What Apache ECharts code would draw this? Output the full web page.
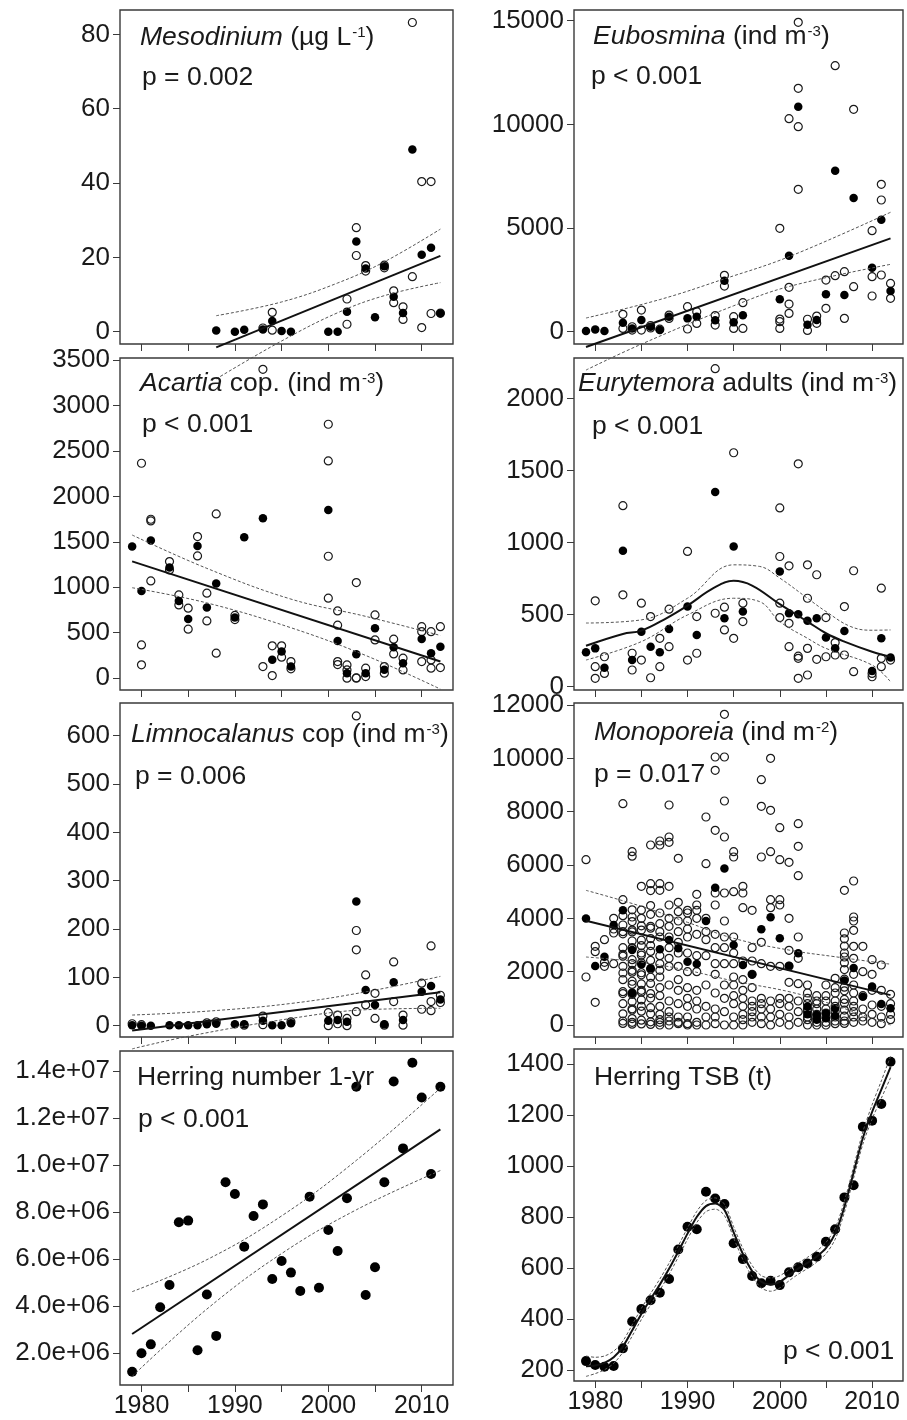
<!DOCTYPE html>
<html>
<head>
<meta charset="utf-8">
<script src="https://cdn.jsdelivr.net/npm/echarts@6/dist/echarts.min.js"></script>
<style>
  html, body { margin: 0; padding: 0; background: #fff; }
  #chart { width: 907px; height: 1420px; }
</style>
</head>
<body>
<div id="chart"></div>
<script>
// ---------- axis ticks ----------
const yearTicks = [1980, 1985, 1990, 1995, 2000, 2005, 2010];
const yearLabels = [1980, 1990, 2000, 2010];
const mesoTicks = [0, 20, 40, 60, 80];
const euboTicks = [0, 5000, 10000, 15000];
const acarTicks = [0, 500, 1000, 1500, 2000, 2500, 3000, 3500];
const euryTicks = [0, 500, 1000, 1500, 2000];
const limnoTicks = [0, 100, 200, 300, 400, 500, 600];
const monoTicks = [0, 2000, 4000, 6000, 8000, 10000, 12000];
const herringNTicks = [2e6, 4e6, 6e6, 8e6, 1e7, 1.2e7, 1.4e7];
const herringNTickLabels = ['2.0e+06', '4.0e+06', '6.0e+06', '8.0e+06', '1.0e+07', '1.2e+07', '1.4e+07'];
const tsbTicks = [200, 400, 600, 800, 1000, 1200, 1400];

// ---------- Mesodinium (ug L-1) ----------
const mesoMean = [[1988,0.3],[1990,0],[1991,0.5],[1993,0.6],[1994,2.9],[1995,0.2],[1996,0],[2000,0],[2001,0],[2002,5.4],[2003,24.3],[2004,17.0],[2005,3.9],[2006,17.6],[2007,9.4],[2008,5.0],[2009,49.0],[2010,20.7],[2011,22.6],[2012,4.9]];
const mesoSamples = [[1993,1.0],[1994,5.2],[1994,0.4],[2002,8.8],[2002,2.0],[2003,28.0],[2003,20.5],[2004,17.8],[2004,16.3],[2006,17.9],[2006,17.2],[2007,11.0],[2007,7.8],[2008,6.7],[2008,3.3],[2009,83.2],[2009,14.8],[2010,40.4],[2010,1.1],[2011,40.4],[2011,4.9],[2012,5.0]];
const mesoFit = [[1988,-4.2],[2012,20.4]];
const mesoUpper = [[1988,4.3],[1995,8.0],[2001,13.1],[2006,18.8],[2012,27.6]];
const mesoLower = [[1988,-12.7],[1995,-2.5],[2001,5.1],[2006,9.7],[2012,13.2]];

// ---------- Eubosmina (ind m-3) ----------
const euboMean = [[1979,30],[1980,110],[1981,30],[1983,430],[1984,160],[1985,560],[1986,240],[1987,80],[1988,720],[1990,643],[1991,724],[1993,550],[1994,2460],[1995,450],[1996,790],[2000,1560],[2001,3658],[2002,10854],[2003,330],[2004,563],[2005,1809],[2006,7766],[2007,1768],[2008,6448],[2010,3082],[2011,5397],[2012,1962]];
const euboSamples = [[1983,836],[1983,160],[1984,240],[1984,80],[1985,1045],[1985,80],[1986,300],[1986,180],[1987,120],[1988,800],[1988,640],[1990,1206],[1990,130],[1991,965],[1991,400],[1993,780],[1993,320],[1994,2717],[1994,2203],[1995,723],[1995,160],[1996,1399],[1996,160],[2000,4985],[2000,611],[2000,482],[2000,160],[2001,10275],[2001,2139],[2001,1335],[2001,884],[2002,14922],[2002,11738],[2002,9889],[2002,6866],[2003,600],[2003,60],[2004,756],[2004,402],[2005,2492],[2005,1126],[2006,12832],[2006,2701],[2007,2894],[2007,643],[2008,10725],[2008,2171],[2010,4872],[2010,2653],[2010,1721],[2011,7107],[2011,6351],[2011,2734],[2012,2330],[2012,1608]];
const euboFit = [[1979,-740],[2012,4500]];
const euboUpper = [[1979,660],[1987,1550],[1994,2550],[2001,3618],[2012,5760]];
const euboLower = [[1979,-1850],[1985,-600],[1995,1250],[2001,2180],[2012,3250]];

// ---------- Acartia cop. (ind m-3) ----------
const acarMean = [[1979,1448],[1980,960],[1981,1514],[1983,1217],[1984,850],[1985,652],[1986,1455],[1987,777],[1988,1041],[1990,667],[1991,1550],[1993,1759],[1994,202],[1995,293],[1996,128],[2000,1851],[2001,410],[2002,55],[2003,264],[2004,55],[2005,550],[2006,92],[2007,341],[2008,165],[2010,432],[2011,275],[2012,347]];
const acarSamples = [[1980,2364],[1980,366],[1980,147],[1981,1748],[1981,1730],[1981,1070],[1983,1283],[1983,1191],[1984,916],[1984,806],[1985,770],[1985,539],[1986,1558],[1986,1345],[1987,935],[1987,630],[1988,1807],[1988,275],[1990,690],[1990,645],[1993,3397],[1993,128],[1994,356],[1994,29],[1995,356],[1995,231],[1996,183],[1996,103],[2000,2793],[2000,2390],[2000,1341],[2000,880],[2001,740],[2001,583],[2001,183],[2001,150],[2002,146],[2002,91],[2002,0],[2003,1052],[2003,5],[2003,0],[2004,110],[2004,18],[2005,696],[2005,421],[2006,128],[2006,55],[2007,429],[2007,267],[2008,220],[2008,91],[2010,567],[2010,512],[2010,183],[2011,512],[2011,201],[2011,110],[2012,567],[2012,117]];
const acarFit = [[1979,1285],[2012,183]];
const acarUpper = [[1979,1575],[1987,1208],[1996,870],[2004,680],[2012,470]];
const acarLower = [[1979,995],[1987,828],[1996,555],[2004,250],[2012,-120]];

// ---------- Eurytemora adults (ind m-3) ----------
const euryMean = [[1979,237],[1980,264],[1981,130],[1983,942],[1984,183],[1985,380],[1986,276],[1987,237],[1988,399],[1990,554],[1991,357],[1993,1350],[1994,473],[1995,972],[1996,520],[2000,798],[2001,508],[2002,501],[2003,455],[2004,473],[2005,339],[2006,264],[2007,385],[2010,107],[2011,334],[2012,200]];
const eurySamples = [[1980,594],[1980,137],[1980,56],[1981,206],[1981,90],[1983,1255],[1983,636],[1984,230],[1984,114],[1985,578],[1985,183],[1986,485],[1986,60],[1987,334],[1987,137],[1988,536],[1988,276],[1990,937],[1990,183],[1991,485],[1991,230],[1993,2206],[1993,508],[1994,550],[1994,392],[1995,1622],[1995,334],[1996,578],[1996,450],[2000,1239],[2000,902],[2000,578],[2000,478],[2001,837],[2001,438],[2001,276],[2002,1545],[2002,210],[2002,195],[2002,56],[2003,844],[2003,612],[2003,264],[2003,79],[2004,775],[2004,188],[2005,478],[2005,206],[2006,304],[2006,218],[2007,554],[2007,218],[2008,803],[2008,102],[2010,90],[2010,67],[2011,682],[2011,195],[2011,137],[2012,183]];
const euryFit = [[1979,282],[1983,364],[1985,387],[1987.7,473],[1990,561],[1992.8,682],[1995,733],[1997,700],[2000,571],[2003,450],[2005,369],[2007,311],[2010,241],[2012,206]];
const euryUpper = [[1979,440],[1985,462],[1990,612],[1995,844],[1997.8,833],[2000,752],[2003,612],[2005,520],[2007.7,415],[2010,390],[2012,392]];
const euryLower = [[1979,183],[1985,311],[1990,496],[1995,612],[1997.8,589],[2000,450],[2003,334],[2005,264],[2010,148],[2012,32]];

// ---------- Limnocalanus cop (ind m-3) ----------
const limnoMean = [[1979,1],[1980,0],[1981,0],[1983,1],[1984,1],[1985,1],[1986,1],[1987,3],[1988,4],[1990,3],[1991,3],[1993,10],[1994,1],[1995,1],[1996,5],[2000,10],[2001,12],[2002,8],[2003,257],[2004,74],[2005,43],[2006,3],[2007,90],[2008,12],[2010,70],[2011,82],[2012,54]];
const limnoSamples = [[1979,4],[1980,2],[1987,6],[1988,8],[1991,1],[1993,20],[1993,2],[1996,8],[2000,27],[2000,0],[2001,22],[2001,4],[2002,15],[2002,0],[2003,641],[2003,197],[2003,157],[2003,29],[2004,105],[2004,43],[2005,67],[2005,15],[2006,1],[2007,132],[2007,50],[2008,22],[2008,1],[2010,88],[2010,34],[2011,165],[2011,50],[2011,31],[2012,63],[2012,48]];
const limnoFit = [[1979,-10],[2012,69]];
const limnoUpper = [[1979,22],[1987,30],[1996,46],[2004,70],[2012,102]];
const limnoLower = [[1979,-48],[1985,-22],[1996,15],[2004,33],[2012,36]];

// ---------- Monoporeia (ind m-2) ----------
const monoYears = [1979,1980,1981,1982,1983,1984,1985,1986,1987,1988,1989,1990,1991,1992,1993,1994,1995,1996,1997,1998,1999,2000,2001,2002,2003,2004,2005,2006,2007,2008,2009,2010,2011,2012];
const monoSamplesByYear = [
  [6200,1800],
  [2950,2750,850],
  [3200,2350,2200],
  [4000,3450,3600,2300],
  [8300,4700,4100,3750,3500,3420,2900,2650,2580,2200,1950,1700,1250,1180,800,420,150,60],
  [6500,6330,4320,4050,3880,3560,3490,3150,2900,2870,2450,2300,2050,1980,1640,1520,1200,1150,880,610,560,240,100,30],
  [5200,4310,4000,3720,3560,3180,2980,2700,2620,2330,1960,1880,1540,1300,1230,940,700,520,180,40],
  [6750,5300,5040,4480,4150,3700,3630,3240,2980,2760,2420,2100,1790,1560,1180,1010,650,420,120,20],
  [6900,6750,5300,5050,4200,3800,3500,3300,2600,2300,2050,1800,1400,1100,700,400,200,100,0],
  [8250,7050,6850,5200,4500,4000,3700,3300,2900,2500,2200,1500,900,500,300,150,0],
  [6250,4600,4250,3900,3500,3100,2700,2200,1700,1300,800,300,100,50],
  [4300,4200,3900,3600,3300,2700,2000,1400,1000,700,300,50,0],
  [4900,4500,4300,4000,3400,2600,2000,1300,900,600,100,0],
  [7800,6050,4000,3500,3200,2600,1500,700,300,0],
  [10050,9550,7300,4950,4500,3400,2900,2300,1900,1200,600,300,50],
  [11650,10050,8400,7050,4950,3900,3300,2900,2300,1500,1000,500,0],
  [6500,6300,5000,3300,2700,2300,1800,1500,1100,800,300,0],
  [5200,4950,4400,2400,1700,1300,1000,700,400,200,0],
  [4300,2900,2400,1900,1400,900,700,500,300,100],
  [9200,8200,6300,3100,2300,1000,800,600,300,50],
  [10000,8050,6500,4700,4400,2200,900,600,300,0],
  [7400,6200,4700,4500,2200,1000,800,400,100],
  [6100,4000,2800,2200,1600,1000,700,300,0],
  [7550,6700,5600,3300,2500,1550,900,500,100],
  [1500,1200,1000,800,600,500,300,200,0],
  [1100,900,800,600,400,250,100,0],
  [1500,1100,900,600,450,300,100,0],
  [1750,1400,1200,900,700,500,300,150,50],
  [5050,3450,3230,2960,2700,2550,2330,2080,1720,1420,1280,960,820,560,330,150,60],
  [5400,4050,3900,3550,2950,2500,1900,1500,1200,900,700,500,300,100],
  [2950,2000,1100,600,300,150],
  [2450,1900,1300,750,400,100],
  [2250,1300,700,300,50],
  [1150,800,400,200]
];
const monoMean = [[1979,3990],[1980,2210],[1981,2560],[1982,3750],[1983,4300],[1984,2810],[1984,1200],[1985,2270],[1986,2125],[1987,2840],[1988,3190],[1989,2875],[1990,2375],[1991,2290],[1992,3900],[1993,5150],[1994,5870],[1995,3000],[1996,2250],[1997,1890],[1998,3590],[1999,4040],[2000,3250],[2001,2220],[2002,2690],[2003,690],[2003,400],[2004,375],[2004,200],[2005,440],[2005,250],[2006,625],[2006,350],[2007,1670],[2008,2140],[2009,1060],[2010,1440],[2011,790],[2012,625]];
const monoFit = [[1979,3910],[2012,1120]];
const monoUpper = [[1979,5050],[1985,4450],[1990,3850],[1995,3250],[2001,2810],[2006,2560],[2012,2280]];
const monoLower = [[1979,2550],[1985,2350],[1990,2050],[1995,1650],[2001,1250],[2005,850],[2012,0]];

// ---------- Herring number 1-yr ----------
const herringYears = [1979,1980,1981,1982,1983,1984,1985,1986,1987,1988,1989,1990,1991,1992,1993,1994,1995,1996,1997,1998,1999,2000,2001,2002,2003,2004,2005,2006,2007,2008,2009,2010,2011,2012];
const herringNumber = [1.22e6,2.0e6,2.38e6,3.96e6,4.90e6,7.57e6,7.64e6,2.13e6,4.50e6,2.74e6,9.27e6,8.77e6,6.53e6,7.84e6,8.33e6,5.16e6,5.92e6,5.43e6,4.65e6,8.66e6,4.79e6,7.24e6,6.35e6,8.59e6,1.333e7,4.48e6,5.66e6,9.27e6,1.355e7,1.071e7,1.435e7,1.287e7,9.62e6,1.333e7];
const herringNFit = [[1979,2.82e6],[2012,1.152e7]];
const herringNUpper = [[1979,4.62e6],[1987,5.98e6],[1995,7.84e6],[2003,1.02e7],[2012,1.327e7]];
const herringNLower = [[1979,1.02e6],[1987,3.88e6],[1995,6.24e6],[2003,8.10e6],[2012,9.77e6]];

// ---------- Herring TSB (t) ----------
const herringTSB = [235,220,213,216,285,390,439,474,503,557,673,762,752,899,873,851,697,635,569,540,550,533,583,603,618,644,703,752,877,925,1154,1178,1243,1409];
const tsbFit = [215,218,228,250,292,355,420,478,535,597,665,735,800,843,853,828,740,655,588,546,535,546,572,598,620,645,678,735,840,975,1110,1212,1300,1388];
const tsbUpper = [255,250,255,274,314,377,442,500,557,619,687,757,822,865,875,850,762,677,610,570,561,570,594,620,642,667,700,757,862,997,1134,1240,1334,1430];
const tsbLower = [175,186,201,226,270,333,398,456,513,575,643,713,778,821,831,806,718,633,566,522,509,522,550,576,598,623,656,713,818,953,1086,1184,1266,1346];

// ---------- build helpers ----------
const FONT = '"Liberation Sans", Arial, Helvetica, sans-serif';
const INK = '#1a1a1a';
const pairs = (xs, ys) => xs.map((x, i) => [x, ys[i]]);
const monoSamples = [];
monoYears.forEach((y, i) => monoSamplesByYear[i].forEach(v => monoSamples.push([y, v])));

// panel frames in pixels
const frames = [
  { left: 120, top: 10,   width: 333, height: 334, yMin: -3.31, yMax: 86.56, ticks: mesoTicks },
  { left: 574, top: 10,   width: 329, height: 334, yMin: -593,  yMax: 15516, ticks: euboTicks },
  { left: 120, top: 358,  width: 333, height: 332, yMin: -130,  yMax: 3522,  ticks: acarTicks },
  { left: 574, top: 358,  width: 329, height: 332, yMin: -25,   yMax: 2280,  ticks: euryTicks },
  { left: 120, top: 703,  width: 333, height: 334, yMin: -23.4, yMax: 667.7, ticks: limnoTicks },
  { left: 574, top: 703,  width: 329, height: 334, yMin: -450,  yMax: 12075, ticks: monoTicks },
  { left: 120, top: 1051, width: 333, height: 334, yMin: 6.53e5, yMax: 1.485e7, ticks: herringNTicks, labels: herringNTickLabels },
  { left: 574, top: 1049, width: 329, height: 332, yMin: 157,   yMax: 1459,  ticks: tsbTicks }
];

const grids = frames.map(f => ({
  left: f.left, top: f.top, width: f.width, height: f.height,
  show: true, borderColor: '#3a3a3a', borderWidth: 1.4, backgroundColor: 'transparent'
}));

const xAxes = frames.map((f, i) => ({
  type: 'value', gridIndex: i, min: 1977.7, max: 2013.35,
  splitLine: { show: false },
  axisLine: { show: false, onZero: false },
  axisTick: { show: true, length: 7, customValues: yearTicks, lineStyle: { color: '#3a3a3a', width: 1 } },
  axisLabel: {
    show: i >= 6, customValues: yearLabels, margin: 9,
    fontSize: 25, fontFamily: FONT, color: INK,
    formatter: v => String(Math.round(v))
  }
}));

const yAxes = frames.map((f, i) => ({
  type: 'value', gridIndex: i, min: f.yMin, max: f.yMax,
  splitLine: { show: false },
  axisLine: { show: false, onZero: false },
  axisTick: { show: true, length: 7, customValues: f.ticks, lineStyle: { color: '#3a3a3a', width: 1 } },
  axisLabel: {
    customValues: f.ticks, margin: 10,
    fontSize: 26, fontFamily: FONT, color: INK,
    formatter: v => {
      if (f.labels) { const k = f.ticks.indexOf(v); return k >= 0 ? f.labels[k] : ''; }
      return String(v);
    }
  }
}));

function openPts(gi, data) {
  return { type: 'scatter', xAxisIndex: gi, yAxisIndex: gi, data, symbol: 'circle', symbolSize: 8,
    itemStyle: { color: 'rgba(255,255,255,0)', borderColor: '#1a1a1a', borderWidth: 1.2, opacity: 1 },
    z: 2, silent: true };
}
function filledPts(gi, data, size) {
  return { type: 'scatter', xAxisIndex: gi, yAxisIndex: gi, data, symbol: 'circle', symbolSize: size || 8.5,
    itemStyle: { color: '#000', opacity: 1 }, z: 3, silent: true };
}
function fitLine(gi, data, smooth) {
  return { type: 'line', xAxisIndex: gi, yAxisIndex: gi, data, symbol: 'none', showSymbol: false, clip: false,
    smooth: smooth || false, lineStyle: { color: '#111', width: 2 }, z: 5, silent: true };
}
function ciLine(gi, data, smooth) {
  return { type: 'line', xAxisIndex: gi, yAxisIndex: gi, data, symbol: 'none', showSymbol: false, clip: false,
    smooth: smooth === undefined ? 0.4 : smooth, lineStyle: { color: '#555', width: 1, type: [3, 2] }, z: 4, silent: true };
}

const series = [
  openPts(0, mesoSamples), filledPts(0, mesoMean), fitLine(0, mesoFit), ciLine(0, mesoUpper), ciLine(0, mesoLower),
  openPts(1, euboSamples), filledPts(1, euboMean), fitLine(1, euboFit), ciLine(1, euboUpper), ciLine(1, euboLower),
  openPts(2, acarSamples), filledPts(2, acarMean), fitLine(2, acarFit), ciLine(2, acarUpper), ciLine(2, acarLower),
  openPts(3, eurySamples), filledPts(3, euryMean), fitLine(3, euryFit, 0.4), ciLine(3, euryUpper), ciLine(3, euryLower),
  openPts(4, limnoSamples), filledPts(4, limnoMean), fitLine(4, limnoFit), ciLine(4, limnoUpper), ciLine(4, limnoLower),
  openPts(5, monoSamples), filledPts(5, monoMean), fitLine(5, monoFit), ciLine(5, monoUpper), ciLine(5, monoLower),
  filledPts(6, pairs(herringYears, herringNumber), 10), fitLine(6, herringNFit), ciLine(6, herringNUpper), ciLine(6, herringNLower),
  filledPts(7, pairs(herringYears, herringTSB), 10), fitLine(7, pairs(herringYears, tsbFit), 0.3),
  ciLine(7, pairs(herringYears, tsbUpper), 0.3), ciLine(7, pairs(herringYears, tsbLower), 0.3)
];

// panel captions
const rich = {
  i: { fontStyle: 'italic', fontSize: 26.5, fontFamily: FONT, fill: INK },
  s: { fontSize: 15, fontFamily: FONT, fill: INK, verticalAlign: 'top', padding: [1, 0, 0, 1] }
};
function caption(x, y, text) {
  return { type: 'text', x, y, z: 10, silent: true,
    style: { text, fontSize: 26.5, fontFamily: FONT, fill: INK, rich, verticalAlign: 'middle' } };
}
const graphics = [
  caption(140, 38,  '{i|Mesodinium} (µg L{s|-1})'),
  caption(142, 78,  'p = 0.002'),
  caption(593, 37,  '{i|Eubosmina} (ind m{s|-3})'),
  caption(591, 77,  'p < 0.001'),
  caption(140, 384, '{i|Acartia} cop. (ind m{s|-3})'),
  caption(142, 425, 'p < 0.001'),
  caption(578, 384, '{i|Eurytemora} adults (ind m{s|-3})'),
  caption(592, 427, 'p < 0.001'),
  caption(131, 735, '{i|Limnocalanus} cop (ind m{s|-3})'),
  caption(135, 777, 'p = 0.006'),
  caption(594, 733, '{i|Monoporeia} (ind m{s|-2})'),
  caption(594, 775, 'p = 0.017'),
  caption(137, 1078, 'Herring number 1-yr'),
  caption(138, 1120, 'p < 0.001'),
  caption(594, 1078, 'Herring TSB (t)'),
  caption(783, 1352, 'p < 0.001')
];

const chart = echarts.init(document.getElementById('chart'), null, { renderer: 'canvas' });
chart.setOption({
  animation: false,
  backgroundColor: '#fff',
  grid: grids,
  xAxis: xAxes,
  yAxis: yAxes,
  series,
  graphic: graphics
});
</script>
</body>
</html>
